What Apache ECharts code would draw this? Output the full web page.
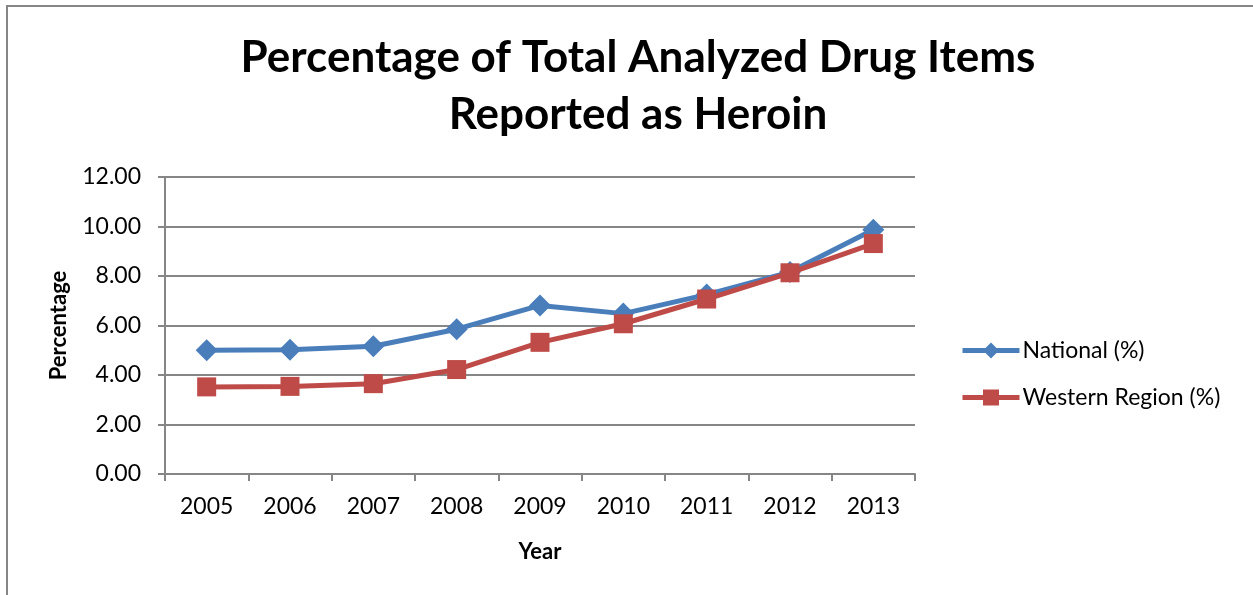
<!DOCTYPE html>
<html><head><meta charset="utf-8">
<script src="https://cdn.jsdelivr.net/npm/echarts@6/dist/echarts.min.js"></script>
<style>html,body{margin:0;padding:0;background:#fff}#c{width:1253px;height:595px}</style>
</head><body><div id="c"></div>
<script>
const years = ['2005','2006','2007','2008','2009','2010','2011','2012','2013'];
const national = [5.00, 5.02, 5.16, 5.85, 6.81, 6.48, 7.25, 8.16, 9.87];
const western = [3.52, 3.54, 3.65, 4.22, 5.32, 6.07, 7.07, 8.13, 9.31];
const yTicks = [0, 2, 4, 6, 8, 10, 12];
const F = 'Lato, "Open Sans", sans-serif';
const chart = echarts.init(document.getElementById('c'));
chart.setOption({
  animation: false,
  title: {
    text: 'Percentage of Total Analyzed Drug Items\nReported as Heroin',
    left: 633, top: 24, textAlign: 'center',
    textStyle: {fontFamily: F, fontWeight: 'bold', fontSize: 44, lineHeight: 57, color: '#000'}
  },
  graphic: [{type: 'rect', shape: {x: 7, y: 6, width: 1260, height: 620}, style: {fill: 'none', stroke: '#868686', lineWidth: 2}}],
  legend: {
    orient: 'vertical', left: 955, top: 334, itemGap: 24, itemWidth: 57, itemHeight: 20,
    lineStyle: {width: 5},
    textStyle: {fontFamily: F, fontSize: 23, color: '#000', padding: [0,0,0,-2]},
    data: ['National (%)', 'Western Region (%)']
  },
  grid: {left: 165, right: 338, top: 177, bottom: 121},
  xAxis: {
    type: 'category', data: years, boundaryGap: true,
    name: 'Year', nameLocation: 'middle', nameGap: 67,
    nameTextStyle: {fontFamily: F, fontWeight: 'bold', fontSize: 22, color: '#000'},
    axisLine: {lineStyle: {color: '#868686', width: 2}},
    axisTick: {show: true, length: 7, lineStyle: {color: '#868686', width: 2}},
    axisLabel: {fontFamily: F, fontSize: 23, color: '#000', margin: 21},
    splitLine: {show: false}
  },
  yAxis: {
    type: 'value', min: 0, max: 12, interval: 2,
    name: 'Percentage', nameLocation: 'middle', nameGap: 95, nameRotate: 90,
    nameTextStyle: {fontFamily: F, fontWeight: 'bold', fontSize: 22, color: '#000'},
    axisLine: {show: true, lineStyle: {color: '#868686', width: 2}},
    axisTick: {show: true, length: 7, lineStyle: {color: '#868686', width: 2}},
    axisLabel: {fontFamily: F, fontSize: 23, color: '#000', margin: 24,
      formatter: v => yTicks.includes(v) ? v.toFixed(2) : ''},
    splitLine: {lineStyle: {color: '#868686', width: 2}}
  },
  series: [
    {name: 'National (%)', type: 'line', data: national, symbol: 'diamond', symbolSize: 22,
      lineStyle: {color: '#4a7ebb', width: 5}, itemStyle: {color: '#4a7ebb'}, z: 2},
    {name: 'Western Region (%)', type: 'line', data: western, symbol: 'rect', symbolSize: 19,
      lineStyle: {color: '#be4b48', width: 5}, itemStyle: {color: '#be4b48'}, z: 3}
  ]
});
</script></body></html>
